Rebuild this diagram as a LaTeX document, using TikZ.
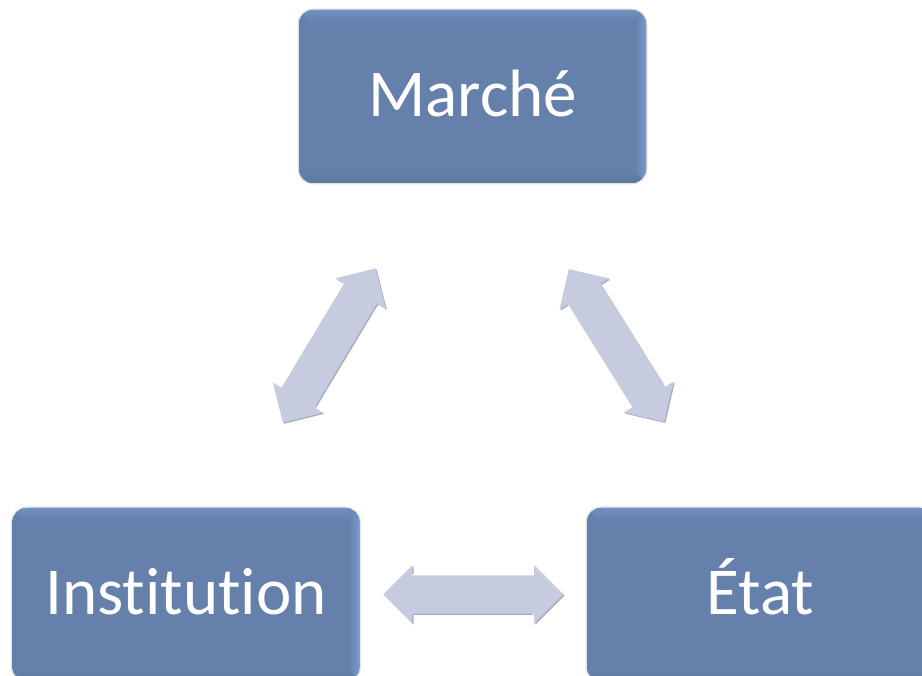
\documentclass[tikz,border=0pt]{standalone}
\usepackage{fontspec}
\setmainfont{Carlito}[Ligatures=NoCommon]
\usetikzlibrary{calc,shapes.arrows,shadows}

\definecolor{faceblue}{HTML}{6581AB}
\definecolor{bevtop}{HTML}{7090C2}
\definecolor{bevright}{HTML}{7499CD}
\definecolor{bevbottom}{HTML}{5B759D}
\definecolor{bevleft}{HTML}{6180AC}
\definecolor{arrowfill}{HTML}{C7CBDF}
\definecolor{arrowshade}{HTML}{A9ADC3}

\tikzset{
  x=1pt, y=1pt,
  bevelbox/.style={
    rounded corners=14pt, minimum width=347pt, minimum height=173pt,
    inner sep=0pt, text height=40pt, text depth=0pt, text=white,
    font={\fontsize{67pt}{80pt}\selectfont}, fill=faceblue,
    preaction={draw=black!55, line width=3pt, draw opacity=0.2},
    path picture={
      \coordinate (bnw) at (path picture bounding box.north west);
      \coordinate (bse) at (path picture bounding box.south east);
      \coordinate (bne) at (bnw -| bse);
      \coordinate (bsw) at (bse -| bnw);
      \coordinate (inw) at ($(bnw)+(10pt,-12pt)$);
      \coordinate (ise) at ($(bse)+(-11pt,11pt)$);
      \coordinate (ine) at (inw -| ise);
      \coordinate (isw) at (ise -| inw);
      % soft bevel strips, light on top and right, dark at the bottom
      \shade[sharp corners, top color=bevtop, bottom color=faceblue]
        (bnw) -- (bne) -- (ine) -- (inw) -- cycle;
      \shade[sharp corners, left color=faceblue, right color=bevright]
        (bne) -- (bse) -- (ise) -- (ine) -- cycle;
      \shade[sharp corners, top color=faceblue, bottom color=bevbottom]
        (bsw) -- (bse) -- (ise) -- (isw) -- cycle;
      \shade[sharp corners, left color=bevleft, right color=faceblue]
        (bnw) -- (bsw) -- (isw) -- (inw) -- cycle;
      \fill[sharp corners, faceblue] (inw) rectangle (ise);
    }
  },
  dblarrow/.style={
    double arrow, double arrow tip angle=90, double arrow head extend=10pt,
    minimum height=180pt, text height=38pt, text depth=0pt, inner sep=0pt,
    fill=arrowfill,
    general shadow={fill=arrowshade, shadow xshift=1.2pt, shadow yshift=-1.2pt},
    general shadow={fill=white, shadow xshift=-1.2pt, shadow yshift=1.2pt}
  }
}

\begin{document}
\begin{tikzpicture}
  \useasboundingbox (0,0) rectangle (922,676);

  % the three institutions
  \node[bevelbox] (march) at (472.5,579.5) {Marché};
  \node[bevelbox] (inst)  at (186,81.5) {Institution};
  \node[bevelbox] (etat)  at (760.5,81.5) {État};

  % two-way block arrows between them
  \node[dblarrow, rotate=59]  (a1) at ($(inst.north)!0.5!(march.south)$) {};
  \node[dblarrow, rotate=-58] (a2) at ($(etat.north)!0.5!(march.south)$) {};
  \node[dblarrow]             (a3) at ($(inst.east)!0.5!(etat.west)$) {};
\end{tikzpicture}
\end{document}
